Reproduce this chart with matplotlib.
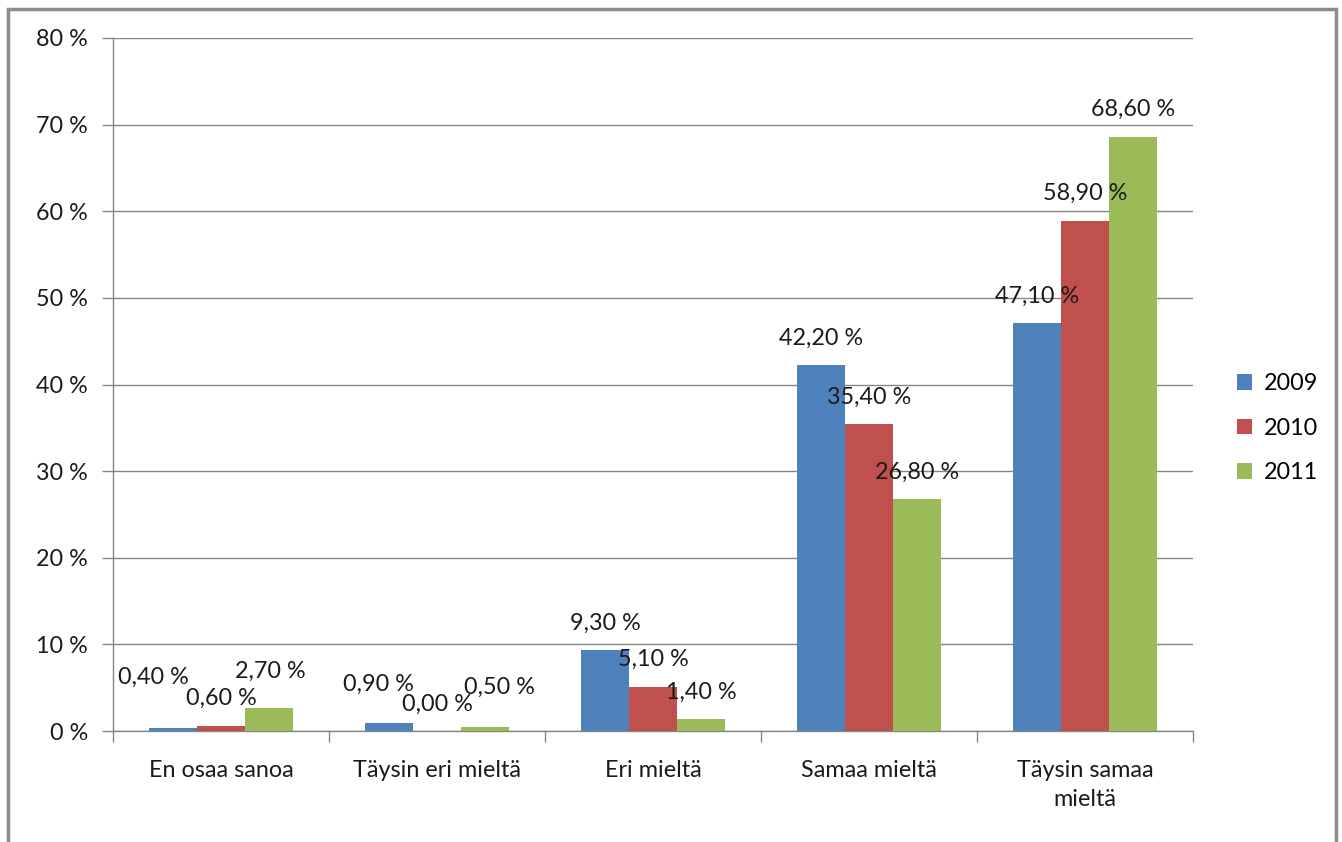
import numpy as np
import matplotlib.pyplot as plt
from matplotlib.patches import Rectangle

plt.rcParams['font.family'] = ['Lato', 'DejaVu Sans']

# Data
categories = ["En osaa sanoa", "Täysin eri mieltä", "Eri mieltä",
              "Samaa mieltä", "Täysin samaa\nmieltä"]
years = ["2009", "2010", "2011"]
v2009 = [0.4, 0.9, 9.3, 42.2, 47.1]
v2010 = [0.6, 0.0, 5.1, 35.4, 58.9]
v2011 = [2.7, 0.5, 1.4, 26.8, 68.6]
y_ticks = [0, 10, 20, 30, 40, 50, 60, 70, 80]

colors = ["#4F81BD", "#C0504D", "#9BBB59"]
grid_col = "#868686"
fs = 16.8

# manual label nudges (pixels) where the original labels were moved
nudge = {(0, 0): (-20, 23), (0, 1): (-11, 12), (2, 1): (14, 12),
         (1, 0): (0, 0), (2, 0): (1, 9)}

fig = plt.figure(figsize=(13.42, 8.42), dpi=100)
ax = fig.add_axes([113 / 1342, 1 - 731 / 842, 1080 / 1342, 693 / 842])

# outer chart frame (bottom edge is cut off in the original)
fig.add_artist(Rectangle((8 / 1342, -0.05), 1328 / 1342, 1.05 - 9 / 842,
                         transform=fig.transFigure, fill=False,
                         edgecolor="#8c8c8c", linewidth=2.5))

x = np.arange(len(categories))
w = 1 / 4.5
series = [v2009, v2010, v2011]
for i, (vals, col, yr) in enumerate(zip(series, colors, years)):
    xs = x + (i - 1) * w
    ax.bar(xs, vals, width=w, color=col, label=yr, zorder=3)
    for j, (xx, v) in enumerate(zip(xs, vals)):
        dx, dy = nudge.get((i, j), (0, 0))
        ax.annotate(f"{v:.2f}".replace(".", ",") + " %", (xx, v),
                    xytext=(dx * 0.72, (27 + dy) * 0.72),
                    textcoords="offset points", ha="center", va="center",
                    fontsize=fs, color="#1a1a1a", zorder=4)

ax.set_xlim(-0.5, len(categories) - 0.5)
ax.set_ylim(0, 80)
ax.set_yticks(y_ticks)
ax.set_yticklabels([f"{t} %" for t in y_ticks])
ax.yaxis.grid(True, color=grid_col, linewidth=1)
ax.set_axisbelow(True)

ax.set_xticks(x)
ax.set_xticklabels(categories, linespacing=1.45)
ax.set_xticks(np.arange(len(categories) + 1) - 0.5, minor=True)
ax.tick_params(axis="x", which="major", length=0, pad=21, labelsize=fs,
               labelcolor="#1a1a1a")
ax.tick_params(axis="x", which="minor", length=8, color=grid_col, width=1)
ax.tick_params(axis="y", length=8, color=grid_col, width=1, pad=10,
               labelsize=fs, labelcolor="#1a1a1a")

for s in ["top", "right"]:
    ax.spines[s].set_visible(False)
for s in ["left", "bottom"]:
    ax.spines[s].set_color(grid_col)
    ax.spines[s].set_linewidth(1)

leg = ax.legend(loc="center left", bbox_to_anchor=(1.021, 0.437), frameon=False,
                fontsize=fs, handlelength=0.65, handleheight=0.65,
                handletextpad=0.5, labelspacing=1.0)

fig.savefig("out.png", dpi=100)
